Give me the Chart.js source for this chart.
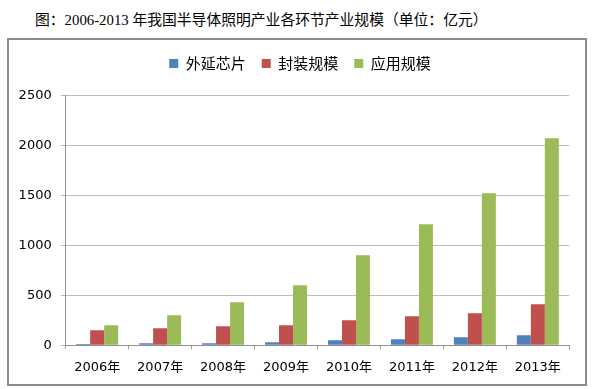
<!DOCTYPE html>
<html>
<head>
<meta charset="utf-8">
<script src="https://cdn.jsdelivr.net/npm/chart.js@4/dist/chart.umd.min.js"></script>
<style>
  html, body { margin: 0; padding: 0; background: #fff; }
  #page { position: relative; width: 598px; height: 389px; overflow: hidden; }
  #title { position: absolute; left: 35px; top: 8px; font-family: "Liberation Serif", "Noto Sans CJK SC", serif; font-size: 14.8px; color: #000; white-space: nowrap; }
  #frame { position: absolute; left: 7px; top: 38px; width: 580px; height: 348px; box-sizing: border-box; border: 2px solid #8c8c8c; }
  #wrap { position: absolute; left: 9px; top: 40px; width: 576px; height: 344px; }
</style>
</head>
<body>
<div id="page">
  <div id="title">图：2006-2013 年我国半导体照明产业各环节产业规模（单位：亿元）</div>
  <div id="frame"></div>
  <div id="wrap"><canvas id="c"></canvas></div>
</div>
<script>
const categories = ["2006年", "2007年", "2008年", "2009年", "2010年", "2011年", "2012年", "2013年"];
const seriesNames = ["外延芯片", "封装规模", "应用规模"];
const epiChips = [12, 20, 20, 30, 50, 60, 80, 100];
const packaging = [150, 170, 190, 200, 250, 290, 320, 410];
const application = [200, 300, 430, 600, 900, 1210, 1520, 2070];
const yTicks = [0, 500, 1000, 1500, 2000, 2500];

const colors = ["#4F81BD", "#C0504D", "#9BBB59"];
const tickFont = { family: "'DejaVu Sans', 'Noto Sans CJK SC', sans-serif", size: 13 };

new Chart(document.getElementById("c"), {
  type: "bar",
  data: {
    labels: categories,
    datasets: [epiChips, packaging, application].map((d, i) => ({
      label: seriesNames[i],
      data: d,
      backgroundColor: colors[i],
      borderWidth: 0,
      categoryPercentage: 0.667,
      barPercentage: 1.0
    }))
  },
  options: {
    responsive: true,
    maintainAspectRatio: false,
    animation: false,
    layout: { padding: { top: 0, right: 0, bottom: 0, left: 6 } },
    plugins: {
      legend: {
        position: "top",
        labels: {
          boxWidth: 9, boxHeight: 9, padding: 16,
          color: "#000",
          font: { family: "'Noto Sans CJK SC', sans-serif", size: 15 }
        }
      },
      tooltip: { enabled: false },
      title: { display: false }
    },
    scales: {
      x: {
        grid: { display: true, drawOnChartArea: false, drawTicks: true, tickLength: 4, color: "#a0a0a0", offset: true },
        border: { color: "#909090", width: 1 },
        ticks: { color: "#000", font: tickFont, padding: 11, maxRotation: 0 },
        afterFit: (s) => { s.height = 38.7; }
      },
      xTopSpacer: {
        type: "category", position: "top", labels: categories,
        grid: { display: false }, border: { display: false },
        ticks: { display: false },
        afterFit: (s) => { s.height = 14.3; }
      },
      y: {
        min: 0, max: 2500,
        afterBuildTicks: (s) => { s.ticks = yTicks.map(v => ({ value: v })); },
        grid: { color: "#bdbdbd", tickLength: 5, drawTicks: true },
        border: { color: "#909090", width: 1 },
        ticks: { color: "#000", font: tickFont, padding: 9, callback: (v) => String(v) },
        afterFit: (s) => { s.width = 50.7; }
      },
      yRightSpacer: {
        type: "linear", position: "right", min: 0, max: 1,
        grid: { display: false }, border: { display: false },
        ticks: { display: false },
        afterFit: (s) => { s.width = 15.7; }
      }
    }
  }
});
</script>
</body>
</html>
